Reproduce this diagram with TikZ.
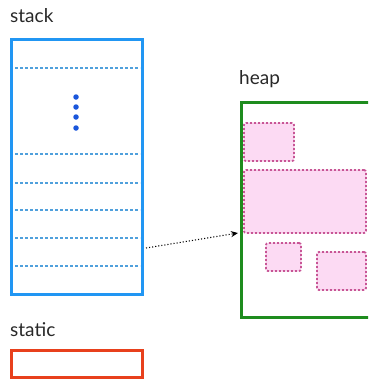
\documentclass[tikz,border=0pt]{standalone}
\usepackage{fontspec}
\setmainfont{Lato}
\usetikzlibrary{arrows.meta}
\definecolor{stackblue}{RGB}{33,150,243}
\definecolor{lineblue}{RGB}{80,160,220}
\definecolor{dotblue}{RGB}{26,86,219}
\definecolor{heapgreen}{RGB}{30,140,30}
\definecolor{staticred}{RGB}{232,64,28}
\definecolor{pinkfill}{RGB}{252,218,243}
\definecolor{pinkline}{RGB}{200,85,150}
\definecolor{labelgray}{RGB}{40,40,40}
\tikzset{
  lbl/.style={anchor=base west, inner sep=0, font=\fontsize{19}{22}\selectfont, text=labelgray},
  framebox/.style={draw, line width=3, minimum width=#1, inner sep=0},
  slot/.style={draw=lineblue, line width=1.4, dash pattern=on 3 off 2},
  chunk/.style={draw=pinkline, fill=pinkfill, line width=1.8, dash pattern=on 2.2 off 1.8, rounded corners=2, inner sep=0},
  vdot/.style={circle, fill=dotblue, inner sep=0, minimum size=5.5}
}
\begin{document}
\begin{tikzpicture}[x=1pt,y=-1pt]
\useasboundingbox (0,0) rectangle (368,380);
\begin{scope}
\clip (0,0) rectangle (368,380);
% labels
\node[lbl] (stacklbl) at (10,23) {stack};
\node[lbl] (heaplbl) at (239,84) {heap};
\node[lbl] (staticlbl) at (10,336) {static};
% stack
\node[framebox=131, draw=stackblue, minimum height=255] (stack) at (76.5,166.5) {};
\foreach \y/\n in {68/s1,154/s2,183/s3,210/s4,238/s5,266/s6}{
  \coordinate (\n l) at (15,\y);
  \coordinate (\n r) at (140,\y);
  \draw[slot] (\n l) -- (\n r);
}
\foreach \y/\n in {97/d1,107/d2,117/d3,128/d4}{
  \node[vdot] (\n) at (76,\y) {};
}
% static
\node[framebox=131, draw=staticred, minimum height=27] (static) at (76.5,363.5) {};
% heap
\node[framebox=150, draw=heapgreen, minimum height=215] (heap) at (316,209.5) {};
\node[chunk, minimum width=50, minimum height=38] (h1) at (269,142) {};
\node[chunk, minimum width=122, minimum height=63] (h2) at (305,201.5) {};
\node[chunk, minimum width=35, minimum height=28] (h3) at (283.5,257) {};
\node[chunk, minimum width=49, minimum height=38] (h4) at (341.5,271) {};
% pointer
\coordinate (pfrom) at (146,248);
\coordinate (pto) at (238,233);
\draw[dotted, line width=1.1, -{Stealth[length=7,width=6]}] (pfrom) -- (pto);
\end{scope}
\end{tikzpicture}
\end{document}
